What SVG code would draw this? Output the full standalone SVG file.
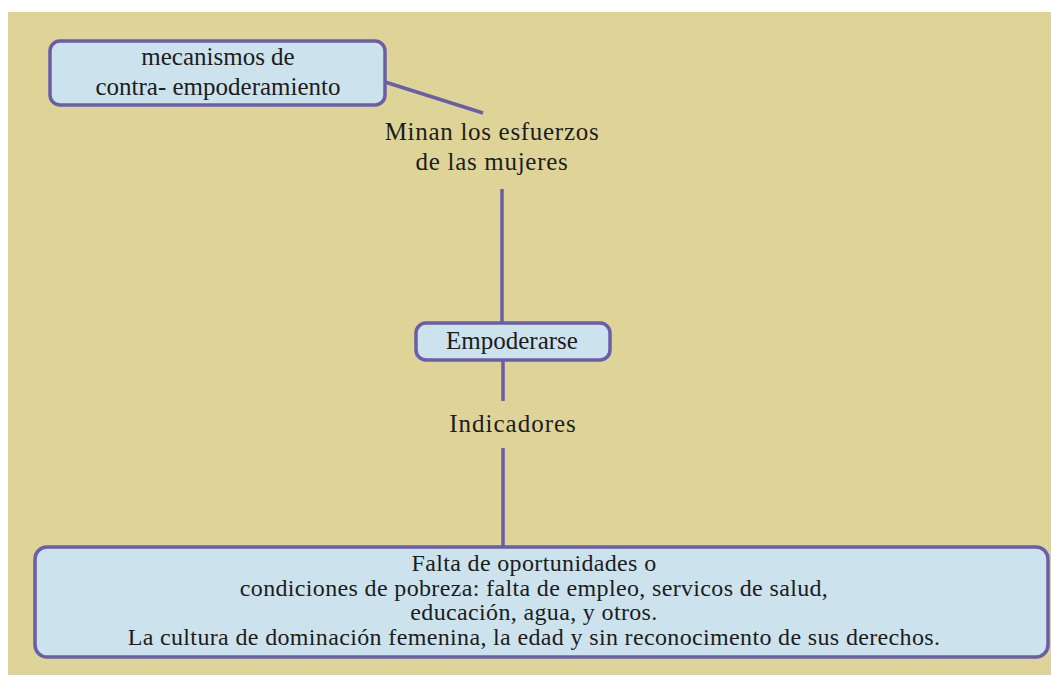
<svg xmlns="http://www.w3.org/2000/svg" width="1051" height="675" viewBox="0 0 1051 675">
  <style>
    .node rect { fill: #cce3ee; stroke: #6a5ea8; stroke-width: 3.5; }
    .t { font-family: "Liberation Serif", "DejaVu Serif", serif; fill: #1c1c1c; text-anchor: middle; }
    .big { font-size: 25px; }
    .lab { font-size: 25px; letter-spacing: 0.7px; }
    .small { font-size: 24px; letter-spacing: 0.35px; }
    .conn line { stroke: #6a5ea8; stroke-width: 3.5; stroke-linecap: butt; }
  </style>
  <rect x="0" y="0" width="1051" height="675" fill="#ffffff"/>
  <rect x="8" y="12" width="1043" height="663" fill="#dfd498"/>

  <g class="conn" id="connectors">
    <line x1="385" y1="82" x2="483" y2="113"/>
    <line x1="502" y1="189" x2="502" y2="323"/>
    <line x1="503" y1="360" x2="503" y2="401"/>
    <line x1="503" y1="448" x2="503" y2="547"/>
  </g>

  <g class="node" id="mecanismos">
    <rect x="50" y="41" width="335" height="64" rx="10"/>
    <text class="t big" x="218" y="65">mecanismos de</text>
    <text class="t big" x="218" y="95">contra- empoderamiento</text>
  </g>

  <g id="minan">
    <text class="t lab" x="492" y="140">Minan los esfuerzos</text>
    <text class="t lab" x="492" y="170">de las mujeres</text>
  </g>

  <g class="node" id="empoderarse">
    <rect x="416" y="323" width="194" height="37" rx="10"/>
    <text class="t big" x="512" y="349">Empoderarse</text>
  </g>

  <g id="indicadores">
    <text class="t lab" x="513" y="432" style="letter-spacing:1px">Indicadores</text>
  </g>

  <g class="node" id="falta">
    <rect x="35" y="547" width="1013" height="110" rx="12"/>
    <text class="t small" x="534" y="571">Falta de oportunidades o</text>
    <text class="t small" x="534" y="596">condiciones de pobreza: falta de empleo, servicos de salud,</text>
    <text class="t small" x="534" y="620">educación, agua, y otros.</text>
    <text class="t small" x="534" y="645">La cultura de dominación femenina, la edad y sin reconocimento de sus derechos.</text>
  </g>
</svg>
